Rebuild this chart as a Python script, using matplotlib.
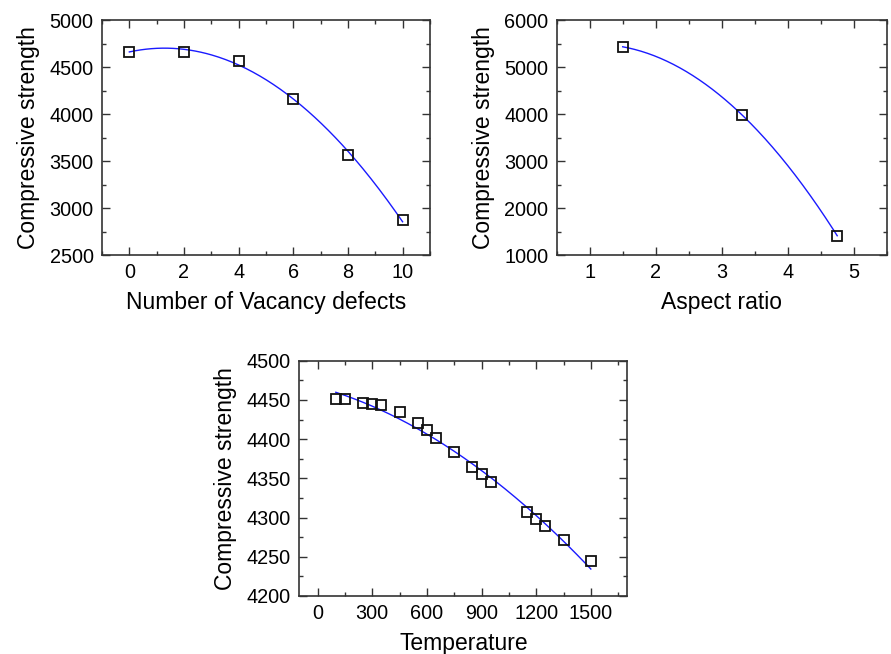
import numpy as np
import matplotlib
matplotlib.use("Agg")
import matplotlib.pyplot as plt
from matplotlib.ticker import MultipleLocator

plt.rcParams['font.family'] = ['Liberation Sans', 'DejaVu Sans']

# vacancy defects
vac_x = [0, 2, 4, 6, 8, 10]
vac_y = [4663, 4663, 4567, 4163, 3560, 2876]

# aspect ratio
ar_x = [1.5, 3.31, 4.75]
ar_y = [5432, 3979, 1411]

# temperature
temp_x = [100, 150, 250, 300, 350, 450, 550, 600, 650, 750, 850, 900, 950,
          1150, 1200, 1250, 1350, 1500]
temp_y = [4451, 4451, 4446, 4445, 4443, 4434, 4420, 4411, 4402, 4384, 4365,
          4355, 4345, 4307, 4298, 4289, 4271, 4244]

ylabel = "Compressive strength"

fig = plt.figure(figsize=(8.91, 6.54), dpi=100)

ax1 = fig.add_axes([0.1145, 0.610, 0.368, 0.3593])
ax2 = fig.add_axes([0.6248, 0.610, 0.3704, 0.3593])
ax3 = fig.add_axes([0.336, 0.0887, 0.368, 0.3598])


def draw(ax, x, y, xlabel, xlim, ylim, xmaj, xmin, ymaj, ymin):
    # quadratic fit through the points
    coef = np.polyfit(x, y, 2)
    xs = np.linspace(min(x), max(x), 200)
    ax.plot(xs, np.polyval(coef, xs), color='#1a1aff', lw=1.0, zorder=2)
    ax.plot(x, y, 's', ms=7.5, mfc='none', mec='#111111', mew=1.3, zorder=3)
    ax.set_xlim(*xlim)
    ax.set_ylim(*ylim)
    ax.xaxis.set_major_locator(MultipleLocator(xmaj))
    ax.xaxis.set_minor_locator(MultipleLocator(xmin))
    ax.yaxis.set_major_locator(MultipleLocator(ymaj))
    ax.yaxis.set_minor_locator(MultipleLocator(ymin))
    ax.tick_params(which='both', direction='in', top=True, right=True,
                   color='#333333', width=1.0, labelsize=14.3, pad=6)
    ax.tick_params(which='major', length=6)
    ax.tick_params(which='minor', length=3)
    for s in ax.spines.values():
        s.set_color('#333333')
        s.set_linewidth(1.2)
    ax.set_xlabel(xlabel, fontsize=16.5, labelpad=6)
    ax.set_ylabel(ylabel, fontsize=16.5, labelpad=7)


draw(ax1, vac_x, vac_y, "Number of Vacancy defects", (-1, 11), (2500, 5000),
     2, 1, 500, 250)
draw(ax2, ar_x, ar_y, "Aspect ratio", (0.5, 5.5), (1000, 6000),
     1, 0.5, 1000, 500)
draw(ax3, temp_x, temp_y, "Temperature", (-100, 1700), (4200, 4500),
     300, 150, 50, 25)

plt.savefig("out.png", dpi=100)
